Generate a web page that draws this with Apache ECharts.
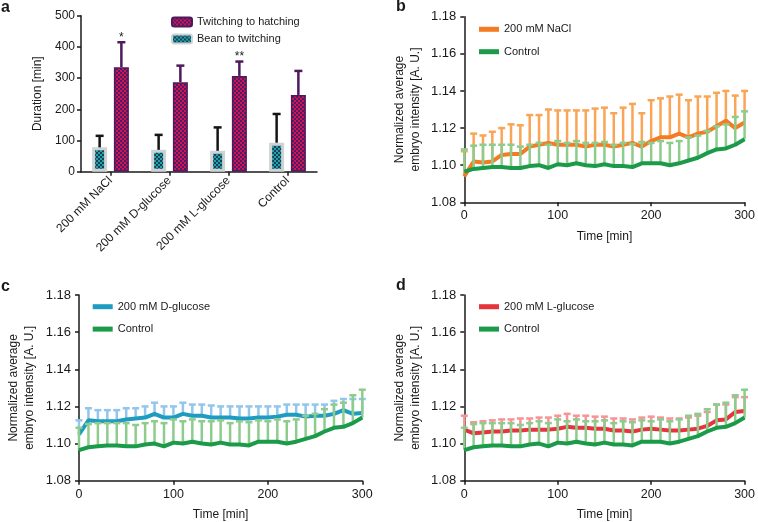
<!DOCTYPE html>
<html lang="en">
<head>
<meta charset="UTF-8">
<title>Duration and embryo intensity</title>
<style>html,body{margin:0;padding:0;background:#fff}#main{width:758px;height:522px}</style>
</head>
<body>
<div id="main"></div>
<script src="https://cdn.jsdelivr.net/npm/echarts@6/dist/echarts.min.js"></script>
<script>
// panel a
var groups = ['200 mM NaCl', '200 mM D-glucose', '200 mM L-glucose', 'Control'];
var beanMean = [78, 70, 67, 93];
var beanUpper = [115, 118, 142, 185];
var twitchMean = [335, 287, 307, 246];
var twitchUpper = [415, 340, 353, 323];
var sigMarks = ['*', '', '**', ''];

// panels b-d
var times = [0, 10, 20, 30, 40, 50, 60, 70, 80, 90, 100, 110, 120, 130, 140, 150,
    160, 170, 180, 190, 200, 210, 220, 230, 240, 250, 260, 270, 280, 290, 300];
var controlMean = [1.0965, 1.098, 1.0985, 1.099, 1.099, 1.0985, 1.0985, 1.0995, 1.100, 1.0985,
    1.1005, 1.100, 1.101, 1.100, 1.0995, 1.1005, 1.0995, 1.0995, 1.099, 1.101,
    1.101, 1.101, 1.100, 1.101, 1.1025, 1.104, 1.1065, 1.1085, 1.109, 1.111, 1.114];
var controlUpper = [1.1085, 1.1105, 1.111, 1.111, 1.111, 1.111, 1.110, 1.111, 1.112, 1.111,
    1.113, 1.112, 1.113, 1.112, 1.112, 1.1125, 1.111, 1.112, 1.1115, 1.1125,
    1.112, 1.113, 1.112, 1.113, 1.115, 1.116, 1.1185, 1.121, 1.122, 1.126, 1.129];
var naclMean = [1.094, 1.102, 1.1015, 1.102, 1.1055, 1.106, 1.106, 1.110, 1.111, 1.112,
    1.111, 1.111, 1.111, 1.110, 1.111, 1.111, 1.110, 1.111, 1.112, 1.110,
    1.113, 1.115, 1.115, 1.117, 1.115, 1.117, 1.118, 1.121, 1.124, 1.120, 1.123];
var naclUpper = [1.1075, 1.117, 1.116, 1.118, 1.120, 1.122, 1.1215, 1.127, 1.127, 1.130,
    1.1295, 1.1295, 1.1295, 1.1295, 1.1305, 1.131, 1.128, 1.131, 1.133, 1.128,
    1.135, 1.136, 1.137, 1.138, 1.135, 1.137, 1.137, 1.139, 1.140, 1.1375, 1.140];
var dgluMean = [1.105, 1.1125, 1.112, 1.112, 1.112, 1.113, 1.1135, 1.114, 1.116, 1.114,
    1.114, 1.116, 1.115, 1.115, 1.114, 1.114, 1.114, 1.1135, 1.1135, 1.114,
    1.114, 1.1145, 1.1155, 1.1155, 1.1145, 1.115, 1.115, 1.116, 1.118, 1.116, 1.1165];
var dgluUpper = [1.1125, 1.119, 1.118, 1.118, 1.118, 1.119, 1.119, 1.120, 1.122, 1.120,
    1.120, 1.122, 1.121, 1.121, 1.1205, 1.120, 1.120, 1.120, 1.120, 1.120,
    1.120, 1.120, 1.121, 1.121, 1.121, 1.121, 1.121, 1.123, 1.124, 1.124, 1.124];
var lgluMean = [1.1075, 1.1055, 1.106, 1.1065, 1.1065, 1.107, 1.107, 1.1075, 1.1075, 1.1075,
    1.108, 1.109, 1.1085, 1.1085, 1.108, 1.108, 1.107, 1.107, 1.1065, 1.1075,
    1.108, 1.1075, 1.107, 1.107, 1.1075, 1.108, 1.1095, 1.1125, 1.113, 1.117, 1.1175];
var lgluUpper = [1.115, 1.1115, 1.112, 1.1125, 1.113, 1.113, 1.1135, 1.1135, 1.114, 1.114,
    1.115, 1.116, 1.115, 1.115, 1.1145, 1.1145, 1.1135, 1.1135, 1.113, 1.114,
    1.1145, 1.114, 1.1135, 1.1135, 1.114, 1.115, 1.117, 1.121, 1.121, 1.125, 1.125];

var FONT = '"Liberation Sans", Arial, sans-serif';
var INK = '#1a1a1a';
var BAR_W = 15, BAR_GAP = 0.45;

function checker(c1, c2, s) {
    var cv = document.createElement('canvas');
    cv.width = cv.height = s * 2;
    var ctx = cv.getContext('2d');
    ctx.fillStyle = c1;
    ctx.fillRect(0, 0, s * 2, s * 2);
    ctx.fillStyle = c2;
    ctx.fillRect(0, 0, s, s);
    ctx.fillRect(s, s, s, s);
    return {image: cv, repeat: 'repeat'};
}

// error bars for the bar chart (upper side only)
function barErr(means, uppers, side, color, marks) {
    return {
        type: 'custom', xAxisIndex: 0, yAxisIndex: 0, z: 5, silent: true,
        data: means.map(function (m, i) { return [i, m, uppers[i]]; }),
        renderItem: function (params, api) {
            var c = api.coord([api.value(0), api.value(1)]);
            var t = api.coord([api.value(0), api.value(2)]);
            var x = c[0] + side * BAR_W * (1 + BAR_GAP) / 2;
            var kids = [
                {type: 'line', shape: {x1: x, y1: c[1], x2: x, y2: t[1]}, style: {stroke: color, lineWidth: 2.5}},
                {type: 'line', shape: {x1: x - 4, y1: t[1], x2: x + 4, y2: t[1]}, style: {stroke: color, lineWidth: 2.5}}
            ];
            var m = marks ? marks[params.dataIndex] : '';
            if (m) {
                kids.push({type: 'text', style: {text: m, x: x, y: t[1] + 1, align: 'center', verticalAlign: 'bottom',
                    font: '12px ' + FONT, fill: INK}});
            }
            return {type: 'group', children: kids};
        }
    };
}

function lineErr(means, uppers, color, idx, z) {
    return {
        type: 'custom', xAxisIndex: idx, yAxisIndex: idx, z: z, silent: true,
        data: times.map(function (t, i) { return [t, means[i], uppers[i]]; }),
        renderItem: function (params, api) {
            var c = api.coord([api.value(0), api.value(1)]);
            var t = api.coord([api.value(0), api.value(2)]);
            return {type: 'group', children: [
                {type: 'line', shape: {x1: c[0], y1: c[1], x2: c[0], y2: t[1]}, style: {stroke: color, lineWidth: 2.5}},
                {type: 'line', shape: {x1: c[0] - 3.5, y1: t[1], x2: c[0] + 3.5, y2: t[1]}, style: {stroke: color, lineWidth: 2.5}}
            ]};
        }
    };
}

function lineSeries(name, means, color, idx, z) {
    return {
        name: name, type: 'line', xAxisIndex: idx, yAxisIndex: idx, z: z,
        data: times.map(function (t, i) { return [t, means[i]]; }),
        symbol: 'none', color: color, lineStyle: {color: color, width: 4}, silent: true
    };
}

var axisLine = {show: true, lineStyle: {color: INK, width: 1.5}};
var axisTick = {show: true, length: 4, lineStyle: {color: INK, width: 1.5}};
var labelStyle = {color: INK, fontSize: 12, fontFamily: FONT};

function timeX(idx) {
    return {
        type: 'value', gridIndex: idx, min: 0, max: 300, interval: 100,
        name: 'Time [min]', nameLocation: 'middle', nameGap: 28,
        nameTextStyle: {color: INK, fontSize: 12, fontFamily: FONT},
        axisLine: axisLine, axisTick: axisTick, splitLine: {show: false},
        axisLabel: Object.assign({}, labelStyle, {margin: 7, fontSize: 12.5})
    };
}

function intensityY(idx) {
    return {
        type: 'value', gridIndex: idx, min: 1.08, max: 1.18, interval: 0.02,
        name: 'Normalized average\nembryo intensity [A. U.]', nameLocation: 'middle', nameGap: 41,
        nameTextStyle: {color: INK, fontSize: 12, fontFamily: FONT, lineHeight: 16},
        axisLine: axisLine, axisTick: axisTick, splitLine: {show: false},
        axisLabel: Object.assign({}, labelStyle, {margin: 8, fontSize: 13,
            formatter: function (v) { return v.toFixed(2); }})
    };
}

function lineLegend(names, left, top) {
    return {
        data: names, left: left, top: top, orient: 'vertical', icon: 'rect', padding: 0,
        itemWidth: 20, itemHeight: 5, itemGap: 8.4, selectedMode: false,
        textStyle: {fontSize: 11, fontFamily: FONT, color: INK, lineHeight: 14}
    };
}

var twitchFill = checker('#d6124f', '#4b1c68', 2);
var beanFill = checker('#1fa5a8', '#1d3d58', 2);

var chart = echarts.init(document.getElementById('main'));
chart.setOption({
    animation: false,
    backgroundColor: '#fff',
    textStyle: {fontFamily: FONT},
    graphic: [
        {type: 'text', left: 1, top: 0, style: {text: 'a', font: 'bold 16px ' + FONT, fill: INK}},
        {type: 'text', left: 396, top: -1, style: {text: 'b', font: 'bold 16px ' + FONT, fill: INK}},
        {type: 'text', left: 1, top: 279, style: {text: 'c', font: 'bold 16px ' + FONT, fill: INK}},
        {type: 'text', left: 396, top: 278, style: {text: 'd', font: 'bold 16px ' + FONT, fill: INK}}
    ],
    grid: [
        {left: 81, top: 15.7, width: 236, height: 156},
        {left: 464.3, top: 16.7, width: 283.4, height: 185.6},
        {left: 79, top: 295, width: 283.3, height: 185.7},
        {left: 464.3, top: 295, width: 283.4, height: 185.7}
    ],
    legend: [
        {
            data: ['Twitching to hatching', 'Bean to twitching'], left: 171, top: 15.5, orient: 'vertical',
            padding: 0, itemWidth: 20, itemHeight: 9, itemGap: 4, selectedMode: false,
            textStyle: {fontSize: 11, fontFamily: FONT, color: INK, lineHeight: 13}
        },
        lineLegend(['200 mM NaCl', 'Control'], 479, 22.3),
        lineLegend(['200 mM D-glucose', 'Control'], 92.7, 299.7),
        lineLegend(['200 mM L-glucose', 'Control'], 479, 299.7)
    ],
    xAxis: [
        {
            type: 'category', gridIndex: 0, data: groups,
            axisLine: axisLine, axisTick: Object.assign({alignWithLabel: true}, axisTick),
            axisLabel: Object.assign({rotate: 45, margin: 7, interval: 0}, labelStyle)
        },
        timeX(1), timeX(2), timeX(3)
    ],
    yAxis: [
        {
            type: 'value', gridIndex: 0, min: 0, max: 500, interval: 100,
            name: 'Duration [min]', nameLocation: 'middle', nameGap: 37,
            nameTextStyle: {color: INK, fontSize: 12, fontFamily: FONT},
            axisLine: axisLine, axisTick: axisTick, splitLine: {show: false},
            axisLabel: Object.assign({margin: 6}, labelStyle)
        },
        intensityY(1), intensityY(2), intensityY(3)
    ],
    series: [
        {
            name: 'Bean to twitching', type: 'bar', xAxisIndex: 0, yAxisIndex: 0, data: beanMean,
            barWidth: BAR_W, barGap: (BAR_GAP * 100) + '%', silent: true,
            itemStyle: {color: beanFill, borderColor: '#cfd3d3', borderWidth: 3}
        },
        {
            name: 'Twitching to hatching', type: 'bar', xAxisIndex: 0, yAxisIndex: 0, data: twitchMean,
            barWidth: BAR_W, barGap: (BAR_GAP * 100) + '%', silent: true,
            itemStyle: {color: twitchFill, borderColor: '#4e1a5e', borderWidth: 1.5}
        },
        barErr(beanMean, beanUpper, -1, '#151515', null),
        barErr(twitchMean, twitchUpper, 1, '#4e1a5e', sigMarks),

        lineErr(naclMean, naclUpper, '#f9a555', 1, 2),
        lineSeries('200 mM NaCl', naclMean, '#f47b22', 1, 3),
        lineErr(controlMean, controlUpper, '#8dcc8c', 1, 4),
        lineSeries('Control', controlMean, '#1b9b4a', 1, 5),

        lineErr(dgluMean, dgluUpper, '#92c6ec', 2, 2),
        lineSeries('200 mM D-glucose', dgluMean, '#1e9cbf', 2, 3),
        lineErr(controlMean, controlUpper, '#8dcc8c', 2, 4),
        lineSeries('Control', controlMean, '#1b9b4a', 2, 5),

        lineErr(lgluMean, lgluUpper, '#f59598', 3, 2),
        lineSeries('200 mM L-glucose', lgluMean, '#e5343b', 3, 3),
        lineErr(controlMean, controlUpper, '#8dcc8c', 3, 4),
        lineSeries('Control', controlMean, '#1b9b4a', 3, 5)
    ]
});
window.addEventListener('resize', function () {
    chart.resize();
});
</script>
</body>
</html>
